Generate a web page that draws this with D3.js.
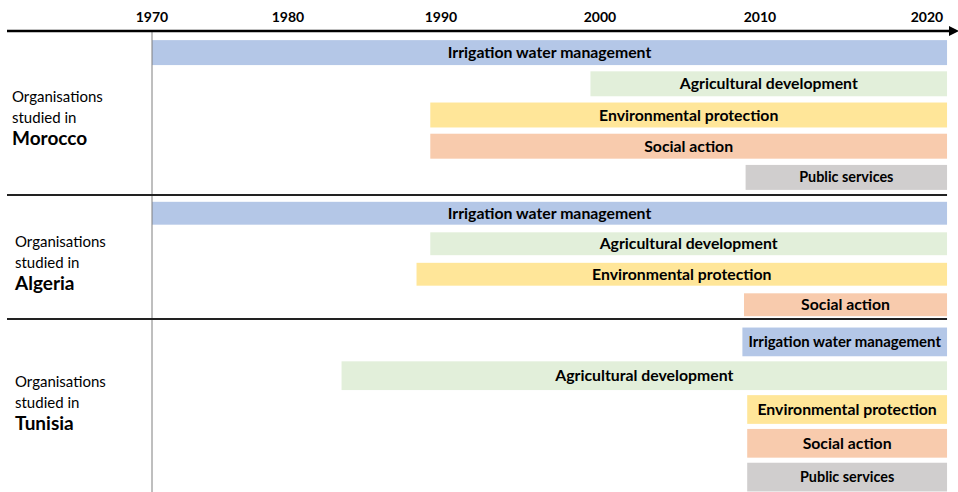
<!DOCTYPE html>
<html lang="en">
<head>
  <meta charset="UTF-8">
  <title>Organisations timeline</title>
  <script src="https://d3js.org/d3.v7.min.js"></script>
  <style>
    body { margin: 0; background: #fff; }
    text { font-family: Lato, "Open Sans", sans-serif; fill: #000; }
    .tick-label { font-size: 14px; font-weight: bold; }
    .bar-label { font-weight: bold; }
    .side { font-size: 15px; }
    .country { font-size: 19px; font-weight: bold; }
  </style>
</head>
<body>
  <svg width="958" height="492"></svg>
  <script>
const tickYears = [1970, 1980, 1990, 2000, 2010, 2020];
const countries = ["Morocco", "Algeria", "Tunisia"];

const moroccoThemes = ["Irrigation water management", "Agricultural development", "Environmental protection", "Social action", "Public services"];
const moroccoStart = [1970, 1999.4, 1989.3, 1989.3, 2009.1];
const moroccoEnd = [2021.2, 2021.2, 2021.2, 2021.2, 2021.2];

const algeriaThemes = ["Irrigation water management", "Agricultural development", "Environmental protection", "Social action"];
const algeriaStart = [1970, 1989.3, 1988.4, 2009];
const algeriaEnd = [2021.2, 2021.2, 2021.2, 2021.2];

const tunisiaThemes = ["Irrigation water management", "Agricultural development", "Environmental protection", "Social action", "Public services"];
const tunisiaStart = [2008.9, 1983.5, 2009.2, 2009.2, 2009.2];
const tunisiaEnd = [2021.2, 2021.2, 2021.2, 2021.2, 2021.2];

const themeColors = {
  "Irrigation water management": "#b4c7e7",
  "Agricultural development": "#e2efda",
  "Environmental protection": "#ffe699",
  "Social action": "#f8cbad",
  "Public services": "#d0cece"
};
const labelSize = d => d.theme === "Public services" ? 14.4 : 15.8;

const svg = d3.select("svg");

// tick labels in the original are not evenly spaced, so the scale is piecewise
const x = d3.scaleLinear()
  .domain(tickYears)
  .range([152, 288, 441, 600, 760, 927]);

const axisY = 31;

const panels = [
  { name: countries[0], themes: moroccoThemes, start: moroccoStart, end: moroccoEnd, top: 37, bottom: 193, padding: 0.2, labelY: 97, labelX: 12 },
  { name: countries[1], themes: algeriaThemes, start: algeriaStart, end: algeriaEnd, top: 198, bottom: 320, padding: 0.25, labelY: 242, labelX: 15 },
  { name: countries[2], themes: tunisiaThemes, start: tunisiaStart, end: tunisiaEnd, top: 325, bottom: 494, padding: 0.15, labelY: 382, labelX: 15 }
];

// bars
panels.forEach(p => {
  const rows = p.themes.map((t, i) => ({ theme: t, start: p.start[i], end: p.end[i], i }));
  const y = d3.scaleBand()
    .domain(d3.range(rows.length))
    .range([p.top, p.bottom])
    .paddingInner(p.padding)
    .paddingOuter(p.padding / 2);

  const g = svg.append("g");
  g.selectAll("rect")
    .data(rows)
    .join("rect")
    .attr("x", d => x(d.start))
    .attr("y", d => y(d.i))
    .attr("width", d => x(d.end) - x(d.start))
    .attr("height", y.bandwidth())
    .attr("fill", d => themeColors[d.theme]);

  g.selectAll("text")
    .data(rows)
    .join("text")
    .attr("class", "bar-label")
    .style("font-size", d => labelSize(d) + "px")
    .attr("x", d => (x(d.start) + x(d.end)) / 2)
    .attr("y", d => y(d.i) + y.bandwidth() / 2)
    .attr("dy", "0.35em")
    .attr("text-anchor", "middle")
    .text(d => d.theme)
    .each(function(d) {
      // shrink a label that would not fit inside its bar
      const room = x(d.end) - x(d.start) - 12;
      const len = this.getComputedTextLength();
      if (len > room) d3.select(this).style("font-size", (labelSize(d) * room / len) + "px");
    });

  const lbl = svg.append("g").attr("transform", `translate(${p.labelX},${p.labelY})`);
  lbl.append("text").attr("class", "side").attr("y", 5).text("Organisations");
  lbl.append("text").attr("class", "side").attr("y", 26).text("studied in");
  lbl.append("text").attr("class", "country").attr("y", 48).text(p.name);
});

// vertical line at the start year
svg.append("line")
  .attr("x1", x(1970)).attr("x2", x(1970))
  .attr("y1", axisY).attr("y2", 492)
  .attr("stroke", "#7f7f7f").attr("stroke-width", 1);

// separators between countries
[195, 319].forEach(yy => {
  svg.append("line")
    .attr("x1", 7).attr("x2", x(2021.2))
    .attr("y1", yy).attr("y2", yy)
    .attr("stroke", "#222").attr("stroke-width", 2.2);
});

// top axis with arrow
svg.append("defs").append("marker")
  .attr("id", "arrow")
  .attr("viewBox", "0 0 10 10")
  .attr("refX", 2).attr("refY", 5)
  .attr("markerWidth", 4).attr("markerHeight", 4)
  .attr("orient", "auto")
  .append("path")
  .attr("d", "M0,0 L10,5 L0,10 z")
  .attr("fill", "#000");

svg.append("line")
  .attr("x1", 7).attr("x2", 951)
  .attr("y1", axisY).attr("y2", axisY)
  .attr("stroke", "#000").attr("stroke-width", 2.5)
  .attr("marker-end", "url(#arrow)");

svg.append("g")
  .selectAll("text")
  .data(tickYears)
  .join("text")
  .attr("class", "tick-label")
  .attr("x", d => x(d))
  .attr("y", 22)
  .attr("text-anchor", "middle")
  .text(d => d);
  </script>
</body>
</html>
